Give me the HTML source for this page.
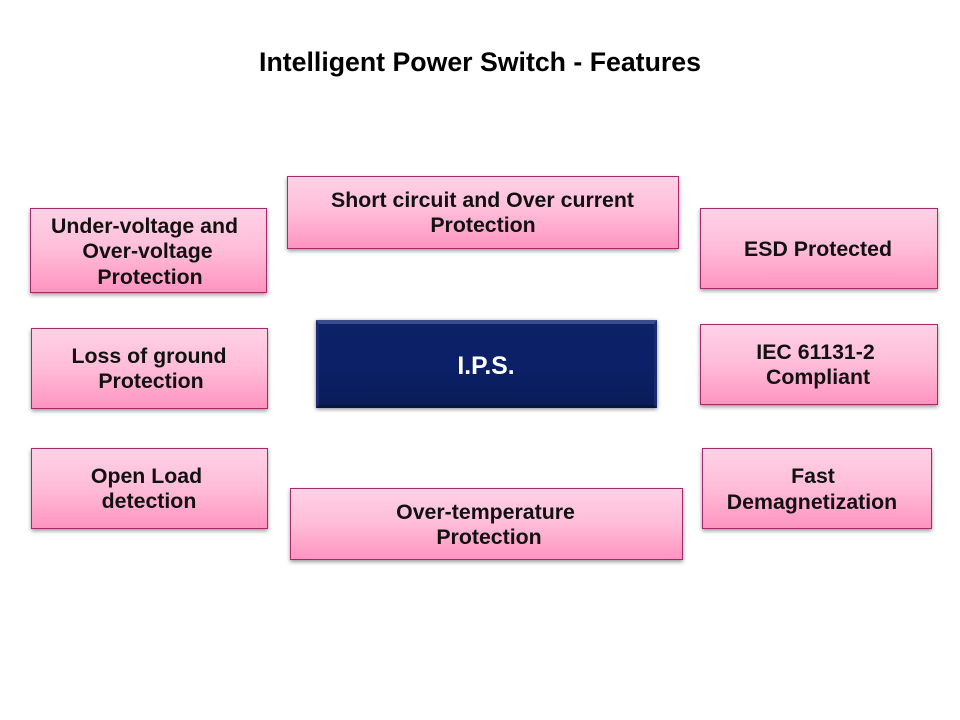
<!DOCTYPE html>
<html><head><meta charset="utf-8"><style>
html,body{margin:0;padding:0;background:#fff}
#p{position:relative;width:960px;height:720px;overflow:hidden;background:#fff;font-family:"Liberation Sans",sans-serif;font-weight:bold;color:#111}
.b{position:absolute;box-sizing:border-box;border:1px solid #a8286e;background:linear-gradient(#ffd2e6 0%,#ffbcd8 50%,#ff94c0 100%);box-shadow:0 2px 4px rgba(0,0,0,.4)}
.t{position:absolute;white-space:nowrap;font-size:21.3px;line-height:25px;transform:translateX(-50%)}
</style></head><body><div id="p">
<div class="t" style="left:480px;top:47px;font-size:26.7px;line-height:31px;color:#000">Intelligent Power Switch - Features</div>

<div class="b" style="left:287px;top:176px;width:392px;height:73px"></div>
<div class="t" style="left:482.5px;top:188px">Short circuit and Over current</div>
<div class="t" style="left:483px;top:213px">Protection</div>

<div class="b" style="left:30px;top:208px;width:237px;height:85px"></div>
<div class="t" style="left:144.5px;top:214px">Under-voltage and</div>
<div class="t" style="left:147.5px;top:239px">Over-voltage</div>
<div class="t" style="left:150px;top:265px">Protection</div>

<div class="b" style="left:700px;top:208px;width:238px;height:81px"></div>
<div class="t" style="left:818px;top:237px">ESD Protected</div>

<div class="b" style="left:31px;top:328px;width:237px;height:81px"></div>
<div class="t" style="left:149px;top:344px">Loss of ground</div>
<div class="t" style="left:151px;top:369px">Protection</div>

<div style="position:absolute;left:316px;top:320px;width:341px;height:88px;box-sizing:border-box;background:linear-gradient(#0e2166 0%,#0b2068 50%,#0a1c58 100%);border-top:4px solid #3a4c8c;border-bottom:3px solid #081540;border-left:3px solid #1a2c70;border-right:3px solid #1a2c70;box-shadow:0 1px 4px rgba(0,0,0,.5)"></div>
<div class="t" style="left:486px;top:353px;font-size:24.7px;line-height:28px;color:#fff">I.P.S.</div>

<div class="b" style="left:700px;top:324px;width:238px;height:81px"></div>
<div class="t" style="left:815.5px;top:340px">IEC 61131-2</div>
<div class="t" style="left:818px;top:365px">Compliant</div>

<div class="b" style="left:31px;top:448px;width:237px;height:81px"></div>
<div class="t" style="left:146.5px;top:464px">Open Load</div>
<div class="t" style="left:149px;top:489px">detection</div>

<div class="b" style="left:290px;top:488px;width:393px;height:72px"></div>
<div class="t" style="left:485.5px;top:500px">Over-temperature</div>
<div class="t" style="left:489px;top:525px">Protection</div>

<div class="b" style="left:702px;top:448px;width:230px;height:81px"></div>
<div class="t" style="left:813px;top:464px">Fast</div>
<div class="t" style="left:812px;top:490px">Demagnetization</div>
</div></body></html>
